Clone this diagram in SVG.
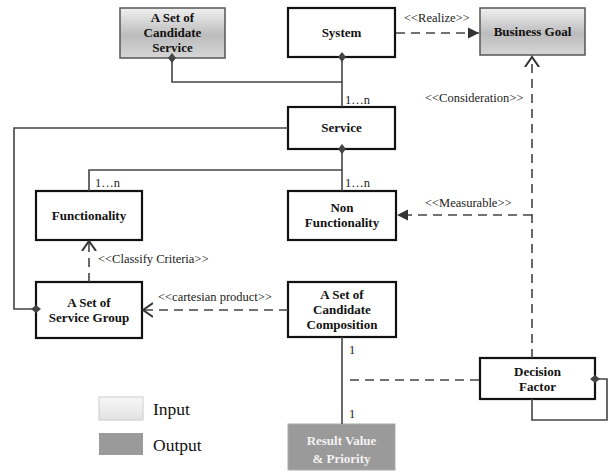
<svg xmlns="http://www.w3.org/2000/svg" width="609" height="474" viewBox="0 0 609 474" font-family="Liberation Serif, Times New Roman, serif">
<defs>
<linearGradient id="gOut" x1="0" y1="0" x2="0" y2="1">
<stop offset="0" stop-color="#f0f0f0"/>
<stop offset="0.55" stop-color="#bcbcbc"/>
<stop offset="1" stop-color="#d6d6d6"/>
</linearGradient>
<linearGradient id="gIn" x1="0" y1="0" x2="0" y2="1">
<stop offset="0" stop-color="#f7f7f7"/>
<stop offset="1" stop-color="#e2e2e2"/>
</linearGradient>
<marker id="open" markerUnits="userSpaceOnUse" markerWidth="12" markerHeight="16" refX="10" refY="8" orient="auto" viewBox="0 0 12 16">
<path d="M0,1 L10,8 L0,15" fill="none" stroke="#333" stroke-width="2"/>
</marker>
<marker id="fill" markerUnits="userSpaceOnUse" markerWidth="12" markerHeight="12" refX="11" refY="6" orient="auto" viewBox="0 0 12 12">
<path d="M0,0.5 L11,6 L0,11.5 Z" fill="#333"/>
</marker>
<marker id="dia" markerUnits="userSpaceOnUse" markerWidth="12" markerHeight="10" refX="5" refY="5" orient="auto" viewBox="0 0 12 10">
<path d="M0,5 L5,1 L10,5 L5,9 Z" fill="#444"/>
</marker>
</defs>
<style>
.n{fill:#fff;stroke:#111;stroke-width:2.2}
.o{fill:url(#gOut);stroke:#555;stroke-width:1.5}
.r{fill:#9a9a9a;stroke:#aaa;stroke-width:1}
.t{font-weight:bold;font-size:13px;fill:#111;text-anchor:middle}
.tw{font-weight:bold;font-size:13px;fill:#f2f2f2;text-anchor:middle}
.l{font-size:12.5px;fill:#222}
.lg{font-size:17.5px;fill:#111}
.s{fill:none;stroke:#444;stroke-width:1.6}
.d{fill:none;stroke:#444;stroke-width:1.6;stroke-dasharray:9 6}
</style>
<g id="candidate-service">
<rect class="o" x="120" y="8" width="105" height="50"/>
<text class="t" x="172.5" y="22">A Set of</text>
<text class="t" x="172.5" y="37">Candidate</text>
<text class="t" x="172.5" y="52">Service</text>
</g>
<g id="system">
<rect class="n" x="288" y="8" width="107" height="49"/>
<text class="t" x="341.5" y="37">System</text>
</g>
<g id="business-goal">
<rect class="o" x="480" y="8" width="105" height="47"/>
<text class="t" x="532.5" y="36">Business Goal</text>
</g>
<g id="service">
<rect class="n" x="288" y="107" width="107" height="42"/>
<text class="t" x="341.5" y="132">Service</text>
</g>
<g id="functionality">
<rect class="n" x="36" y="191" width="106" height="49"/>
<text class="t" x="89" y="220">Functionality</text>
</g>
<g id="non-functionality">
<rect class="n" x="288" y="191" width="108" height="49"/>
<text class="t" x="342" y="212">Non</text>
<text class="t" x="342" y="227">Functionality</text>
</g>
<g id="service-group">
<rect class="n" x="36" y="282" width="106" height="56"/>
<text class="t" x="89" y="307">A Set of</text>
<text class="t" x="89" y="322">Service Group</text>
</g>
<g id="candidate-composition">
<rect class="n" x="288" y="282" width="108" height="55"/>
<text class="t" x="342" y="299">A Set of</text>
<text class="t" x="342" y="314">Candidate</text>
<text class="t" x="342" y="329">Composition</text>
</g>
<g id="decision-factor">
<rect class="n" x="480" y="358" width="115" height="41"/>
<text class="t" x="537.5" y="376">Decision</text>
<text class="t" x="537.5" y="391">Factor</text>
</g>
<g id="result">
<rect class="r" x="288" y="424" width="107" height="46"/>
<text class="tw" x="341.5" y="445">Result Value</text>
<text class="tw" x="341.5" y="463">&amp; Priority</text>
</g>
<g id="legend">
<rect x="99" y="397" width="44" height="23" fill="url(#gIn)" stroke="#ccc" stroke-width="1"/>
<text class="lg" x="153" y="415">Input</text>
<rect x="99" y="433" width="44" height="22" fill="#9a9a9a"/>
<text class="lg" x="153" y="451">Output</text>
</g>
<g id="connectors">
<polyline class="s" points="172,58 172,82 342,82" marker-start="url(#dia)"/>
<line class="s" x1="342" y1="57" x2="342" y2="107" marker-start="url(#dia)"/>
<line class="s" x1="342" y1="149" x2="342" y2="191" marker-start="url(#dia)"/>
<polyline class="s" points="342,170 89,170 89,191"/>
<polyline class="s" points="288,128 14,128 14,309 36,309" marker-end="url(#dia)"/>
<line class="d" x1="89" y1="282" x2="89" y2="241" marker-end="url(#open)"/>
<line class="d" x1="288" y1="310" x2="143" y2="310" marker-end="url(#open)"/>
<line class="d" x1="396" y1="33" x2="479" y2="33" marker-end="url(#fill)"/>
<line class="d" x1="532" y1="358" x2="532" y2="57" marker-end="url(#open)"/>
<line class="d" x1="532" y1="215" x2="397" y2="215" marker-end="url(#fill)"/>
<line class="s" x1="342" y1="337" x2="342" y2="424"/>
<line class="d" x1="350" y1="380" x2="480" y2="380"/>
<polyline class="s" points="595,379 607,379 607,420 532,420 532,399" marker-start="url(#dia)"/>
<text class="l" x="404" y="22">&lt;&lt;Realize&gt;&gt;</text>
<text class="l" x="425" y="102">&lt;&lt;Consideration&gt;&gt;</text>
<text class="l" x="345" y="104">1…n</text>
<text class="l" x="95" y="187">1…n</text>
<text class="l" x="345" y="187">1…n</text>
<text class="l" x="425" y="207">&lt;&lt;Measurable&gt;&gt;</text>
<text class="l" x="98" y="263">&lt;&lt;Classify Criteria&gt;&gt;</text>
<text class="l" x="158" y="301">&lt;&lt;cartesian product&gt;&gt;</text>
<text class="l" x="349" y="354">1</text>
<text class="l" x="349" y="418">1</text>
</g>
</svg>
